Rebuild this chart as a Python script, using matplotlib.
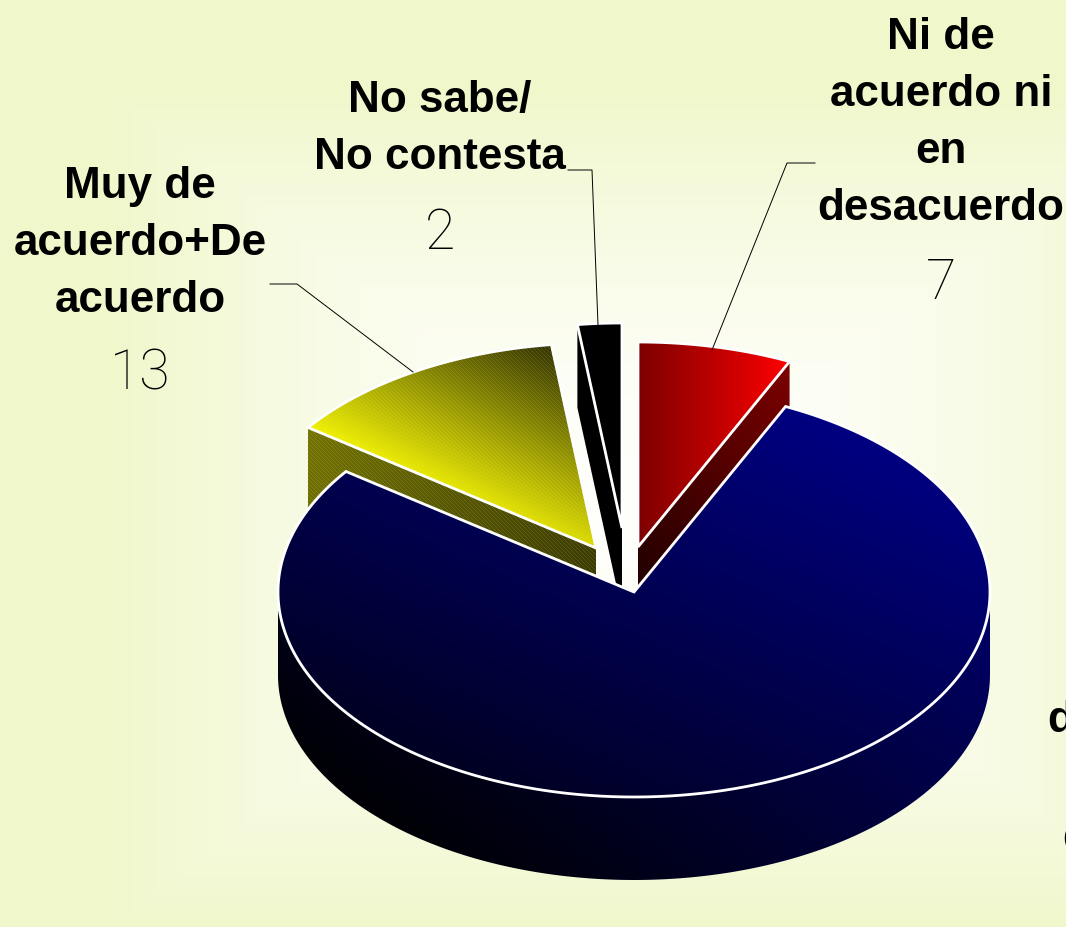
import numpy as np
import matplotlib
matplotlib.use("Agg")
import matplotlib.pyplot as plt
from matplotlib.patches import Polygon

# data
categorias = ["Ni de acuerdo ni en desacuerdo", "Muy en desacuerdo+En desacuerdo", "Muy de acuerdo+De acuerdo", "No sabe/No contesta"]
valores = [7, 78, 13, 2]
etiquetas_ni = ["Ni de", "acuerdo ni", "en", "desacuerdo"]
etiquetas_ns = ["No sabe/", "No contesta"]
etiquetas_muy = ["Muy de", "acuerdo+De", "acuerdo"]
etiquetas_cortadas = ["desacuerdo+En", "desacuerdo"]

W, H = 1066, 927
RX, RY, DEPTH = 356, 205, 83

# centro de cada rebanada (explosion), mismo orden que valores
centros = [(638, 547), (634, 592), (596, 548), (622, 528)]
orden_dibujo = [2, 3, 0, 1]

# colores de degradado: (inicio, fin, direccion)
color_tapa = [
    ((125, 0, 0), (255, 0, 0), (1, 0)),
    ((0, 0, 35), (0, 0, 130), (0.4, -0.9)),
    ((240, 240, 0), (50, 50, 0), (0.45, -0.9)),
    ((0, 0, 0), (0, 0, 0), (1, 0)),
]
color_lado = [
    ((25, 0, 0), (125, 0, 0), (1, -0.8)),
    ((0, 0, 5), (0, 0, 105), (0.6, -0.8)),
    ((115, 115, 0), (55, 55, 0), (1, 0.4)),
    ((0, 0, 0), (0, 0, 0), (1, 0)),
]


def punto(cx, cy, th, dz=0):
    return (cx + RX * np.sin(th), cy - RY * np.cos(th) + dz)


def arco(cx, cy, t0, t1, dz=0):
    n = max(2, int(abs(t1 - t0) * 60))
    return [punto(cx, cy, t, dz) for t in np.linspace(t0, t1, n)]


def degradado(ax, pts, c0, c1, dir, rayas=False, zorder=2):
    pts = np.array(pts)
    x0, y0 = np.floor(pts.min(axis=0)).astype(int)
    x1, y1 = np.ceil(pts.max(axis=0)).astype(int)
    xx, yy = np.meshgrid(np.arange(x0, x1 + 1), np.arange(y0, y1 + 1))
    pr = xx * dir[0] + yy * dir[1]
    ppr = pts[:, 0] * dir[0] + pts[:, 1] * dir[1]
    t = (pr - ppr.min()) / max(ppr.max() - ppr.min(), 1)
    t = np.clip(t, 0, 1)[..., None]
    img = np.array(c0) * (1 - t) + np.array(c1) * t
    if rayas:
        mask = ((xx - yy) % 4 == 0)[..., None]
        img = np.where(mask, img * 0.88 + 255 * 0.12, img)
    im = ax.imshow(img.astype(np.uint8), extent=(x0 - 0.5, x1 + 0.5, y1 + 0.5, y0 - 0.5),
                   interpolation="bilinear", zorder=zorder, aspect="auto")
    pol = Polygon(pts, closed=True, transform=ax.transData, facecolor="none", edgecolor="none")
    ax.add_patch(pol)
    im.set_clip_path(pol)
    return pol


fig = plt.figure(figsize=(W / 100, H / 100), dpi=100)
ax = fig.add_axes([0, 0, 1, 1])

# fondo
xx, yy = np.meshgrid(np.arange(W), np.arange(H))
t = np.clip(np.maximum(np.abs(xx - 650) / 540, np.abs(yy - 510) / 420), 0, 1)[..., None] ** 1.6
fondo = np.array((255, 255, 252)) * (1 - t) + np.array((240, 247, 203)) * t
ax.imshow(fondo.astype(np.uint8), extent=(0, W, H, 0), aspect="auto", zorder=0)

# rebanadas
acum = np.cumsum([0] + valores) / sum(valores) * 2 * np.pi
for i in orden_dibujo:
    cx, cy = centros[i]
    t0, t1 = acum[i], acum[i + 1]
    rayas = i == 2
    # paredes de corte visibles
    for th, normal in ((t0, t0 - np.pi / 2), (t1, t1 + np.pi / 2)):
        if np.cos(normal) < -1e-6:
            p = punto(cx, cy, th)
            pared = [(cx, cy), p, (p[0], p[1] + DEPTH), (cx, cy + DEPTH)]
            degradado(ax, pared, *color_lado[i], rayas=rayas)
    # pared exterior, solo la parte de delante
    a0, a1 = max(t0, np.pi / 2), min(t1, 3 * np.pi / 2)
    if a1 > a0:
        pared = arco(cx, cy, a0, a1) + arco(cx, cy, a1, a0, DEPTH)
        degradado(ax, pared, *color_lado[i], rayas=rayas)
    # tapa
    tapa = [(cx, cy)] + arco(cx, cy, t0, t1)
    degradado(ax, tapa, *color_tapa[i], rayas=rayas)
    ax.add_patch(Polygon(tapa, closed=True, facecolor="none", edgecolor="white", lw=2, zorder=3, joinstyle="miter"))
    ax.set_xlim(0, W)
    ax.set_ylim(H, 0)

# lineas guia
lineas = [
    ([712, 787, 815], [350, 163, 163]),
    ([598, 592, 568], [325, 170, 170]),
    ([413, 297, 270], [372, 284, 284]),
]
for xs, ys in lineas:
    ax.plot(xs, ys, color="black", lw=0.7, zorder=4)

# textos
fuente = dict(family="Liberation Sans", weight="bold", fontsize=31.7, color="black", zorder=5)
fuente_num = dict(family="Roboto", weight="light", fontsize=40, color="black", zorder=5)


def bloque(x, y0, lineas_txt, num, y_num):
    for k, s in enumerate(lineas_txt):
        ax.text(x, y0 + k * 57, s, ha="center", va="baseline", **fuente)
    ax.text(x, y_num, str(num), ha="center", va="baseline", **fuente_num)


bloque(941, 49, etiquetas_ni, valores[0], 299)
bloque(440, 112, etiquetas_ns, valores[3], 249)
bloque(140, 198, etiquetas_muy, valores[2], 390)

# etiqueta cortada por el borde derecho
ax.text(1047, 732, etiquetas_cortadas[0], ha="left", va="baseline", clip_on=False, **fuente)
ax.text(1062, 850, etiquetas_cortadas[1], ha="left", va="baseline", clip_on=False, **fuente)

ax.set_xlim(0, W)
ax.set_ylim(H, 0)
ax.axis("off")
fig.savefig("out.png", dpi=100)
